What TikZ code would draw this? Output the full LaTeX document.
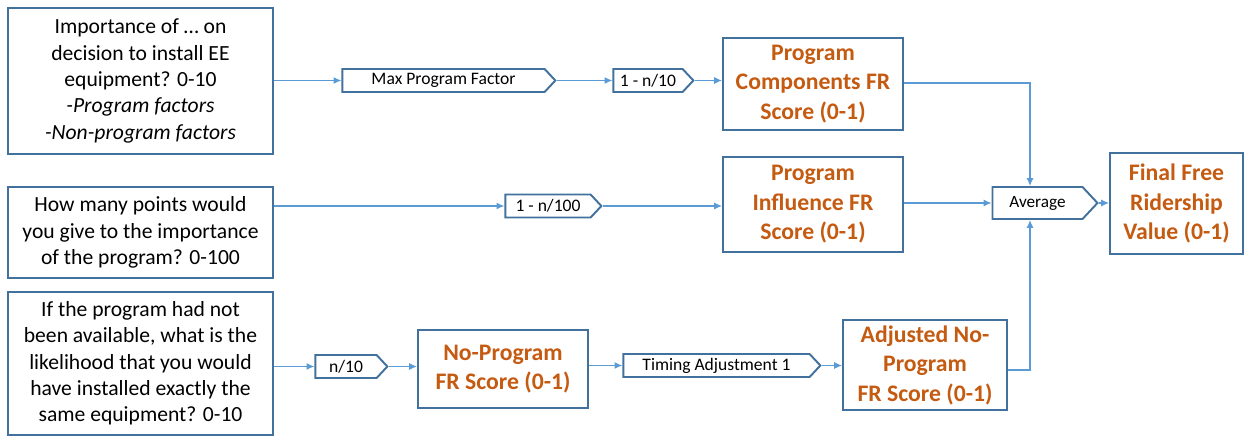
\documentclass[tikz,border=0pt]{standalone}
\usepackage{fontspec}
\setmainfont{Carlito}
\usetikzlibrary{shapes.symbols,arrows.meta}
\definecolor{boxline}{HTML}{41719C}
\definecolor{conn}{HTML}{5B9BD5}
\definecolor{orangetxt}{HTML}{C55A11}
\begin{document}
\begin{tikzpicture}[x=0.02cm,y=-0.02cm,
  qbox/.style={draw=boxline,line width=1.1pt,fill=white,align=center,inner sep=2pt,
    font=\fontsize{12.3}{15}\selectfont},
  obox/.style={draw=boxline,line width=1.1pt,fill=white,align=center,inner sep=2pt,
    text=orangetxt,font=\fontsize{13.5}{16.8}\selectfont\bfseries},
  chev/.style={draw=boxline,line width=1.1pt,fill=white,shape=signal,signal to=east,
    signal pointer angle=94,inner sep=0pt,minimum height=0.46cm,
    font=\fontsize{10}{12}\selectfont},
  conn/.style={draw=conn,line width=0.7pt,-{Latex[length=4.5pt,width=4pt]}}
]
\useasboundingbox (0,0) rectangle (1247,436);
% input boxes
\node[qbox,minimum width=5.3cm,minimum height=2.92cm] (q1) at (140.5,81)
  {Importance of … on\\decision to install EE\\equipment? 0-10\\\textit{-Program factors}\\\textit{-Non-program factors}};
\node[qbox,minimum width=5.3cm,minimum height=1.82cm] (q2) at (140.5,232.5)
  {How many points would\\you give to the importance\\of the program? 0-100};
\node[qbox,minimum width=5.3cm,minimum height=2.86cm] (q3) at (140.5,363.5)
  {If the program had not\\been available, what is the\\likelihood that you would\\have installed exactly the\\same equipment? 0-10};
% chevrons
\node[chev,minimum width=4.26cm] (max) at (443.5,80.5) {Max Program Factor};
\node[chev,minimum width=1.6cm] (n10) at (648,80.5) {1 - n/10};
\node[chev,minimum width=1.92cm] (n100) at (548,206) {1 - n/100};
\node[chev,minimum width=2.1cm,minimum height=0.64cm,font=\fontsize{9.8}{11}\selectfont] (avg) at (1037.5,203) {Average};
\node[chev,minimum width=1.44cm] (nd10) at (346,366.5) {n/10};
\node[chev,minimum width=3.94cm] (tim) at (716.5,365.5) {Timing Adjustment 1};
% orange boxes
\node[obox,minimum width=3.6cm,minimum height=1.84cm] (pc) at (813,84)
  {Program\\Components FR\\Score (0-1)};
\node[obox,minimum width=3.6cm,minimum height=1.9cm] (pi) at (813,204.5)
  {Program\\Influence FR\\Score (0-1)};
\node[obox,minimum width=2.66cm,minimum height=2.02cm] (fin) at (1176.5,203.5)
  {Final Free\\Ridership\\Value (0-1)};
\node[obox,minimum width=3.4cm,minimum height=1.56cm] (np) at (503,369)
  {No-Program\\FR Score (0-1)};
\node[obox,minimum width=3.28cm,minimum height=1.8cm] (adj) at (925,365)
  {Adjusted No-\\Program\\FR Score (0-1)};
% connectors
\draw[conn] (q1.east |- max.west) -- (max.west);
\draw[conn] (max.east) -- (n10.west);
\draw[conn] (n10.east) -- (n10.east -| pc.west);
\draw[conn] (q2.east |- n100.west) -- (n100.west);
\draw[conn] (n100.east) -- (n100.east -| pi.west);
\draw[conn] (pi.east |- avg.west) -- (avg.west);
\draw[conn] (avg.east) -- (avg.east -| fin.west);
\draw[conn] (q3.east |- nd10.west) -- (nd10.west);
\draw[conn] (nd10.east) -- (nd10.east -| np.west);
\draw[conn] (np.east |- tim.west) -- (tim.west);
\draw[conn] (tim.east) -- (tim.east -| adj.west);
\draw[conn] (pc.east |- 0,83) -| ([xshift=-0.15cm]avg.north);
\draw[conn] (adj.east |- 0,370) -| ([xshift=-0.15cm]avg.south);
\end{tikzpicture}
\end{document}
